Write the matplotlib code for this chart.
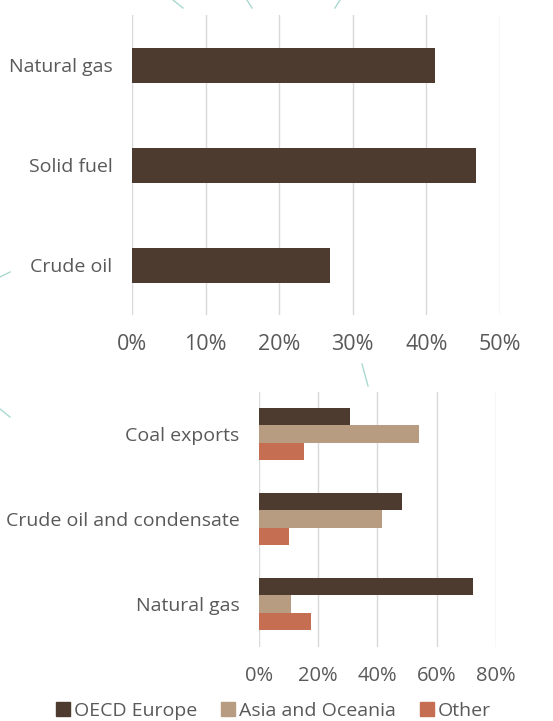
import matplotlib
matplotlib.use("Agg")
import matplotlib.pyplot as plt
from matplotlib.lines import Line2D
import numpy as np

plt.rcParams['font.family'] = ['Open Sans', 'DejaVu Sans']

# top chart: share by fuel
fuel_labels = ["Natural gas", "Solid fuel", "Crude oil"]
fuel_share = [41.2, 46.8, 26.9]
top_ticks = [0, 10, 20, 30, 40, 50]

# bottom chart: exports by destination
export_labels = ["Coal exports", "Crude oil and condensate", "Natural gas"]
oecd_europe = [30.8, 48.3, 72.2]
asia_oceania = [54.2, 41.7, 10.8]
other = [15.3, 10.3, 17.5]
series_names = ["OECD Europe", "Asia and Oceania", "Other"]
bottom_ticks = [0, 20, 40, 60, 80]

c_dark = "#4d3b2f"
c_tan = "#b89c81"
c_red = "#c66e52"
c_grid = "#d9d9d9"
c_text = "#595959"

W, H = 553, 721
fig = plt.figure(figsize=(W / 100, H / 100), dpi=100)


def px_axes(x0, y0, x1, y1):
    # pixel box, y measured from the top
    return fig.add_axes([x0 / W, 1 - y1 / H, (x1 - x0) / W, (y1 - y0) / H])


def style(ax, xsize):
    for s in ax.spines.values():
        s.set_visible(False)
    ax.xaxis.grid(True, color=c_grid, lw=1)
    ax.set_axisbelow(True)
    ax.tick_params(length=0, colors=c_text, labelsize=14)
    ax.tick_params(axis='x', pad=14, labelsize=xsize)
    ax.tick_params(axis='y', pad=14)


# decorative background strokes
for (xa, ya), (xb, yb) in [((173, 0), (183, 8)), ((247, 0), (252, 8)),
                           ((340, 0), (335, 8)), ((0, 277), (10, 272)),
                           ((0, 409), (10, 417)), ((362, 364), (368, 386))]:
    fig.add_artist(Line2D([xa / W, xb / W], [1 - ya / H, 1 - yb / H],
                          color="#a9d9d1", lw=1))

# top chart
ax1 = px_axes(132, 15, 500, 315)
y1 = np.arange(len(fuel_labels))
ax1.barh(y1, fuel_share, height=0.35, color=c_dark)
ax1.set_xlim(0, 50)
ax1.set_ylim(len(fuel_labels) - 0.5, -0.5)
ax1.set_xticks(top_ticks)
ax1.set_xticklabels([f"{t}%" for t in top_ticks])
ax1.set_yticks(y1)
ax1.set_yticklabels(fuel_labels)
style(ax1, 15.5)

# bottom chart
ax2 = px_axes(258.7, 391.7, 496, 646.7)
y2 = np.arange(len(export_labels))
h = 0.205
ax2.barh(y2 - h, oecd_europe, height=h, color=c_dark, label=series_names[0])
ax2.barh(y2, asia_oceania, height=h, color=c_tan, label=series_names[1])
ax2.barh(y2 + h, other, height=h, color=c_red, label=series_names[2])
ax2.set_xlim(0, 80)
ax2.set_ylim(len(export_labels) - 0.5, -0.5)
ax2.set_xticks(bottom_ticks)
ax2.set_xticklabels([f"{t}%" for t in bottom_ticks])
ax2.set_yticks(y2)
ax2.set_yticklabels(export_labels)
style(ax2, 14.5)

handles = [Line2D([], [], marker='s', ls='', color=c, markersize=10)
           for c in (c_dark, c_tan, c_red)]
leg = fig.legend(handles, series_names, loc='center', ncol=3,
                 bbox_to_anchor=(274 / W, 1 - 711 / H), frameon=False,
                 fontsize=14, handlelength=0.6, handletextpad=0.25,
                 columnspacing=1.3, labelcolor=c_text)

fig.savefig("out.png", dpi=100)
